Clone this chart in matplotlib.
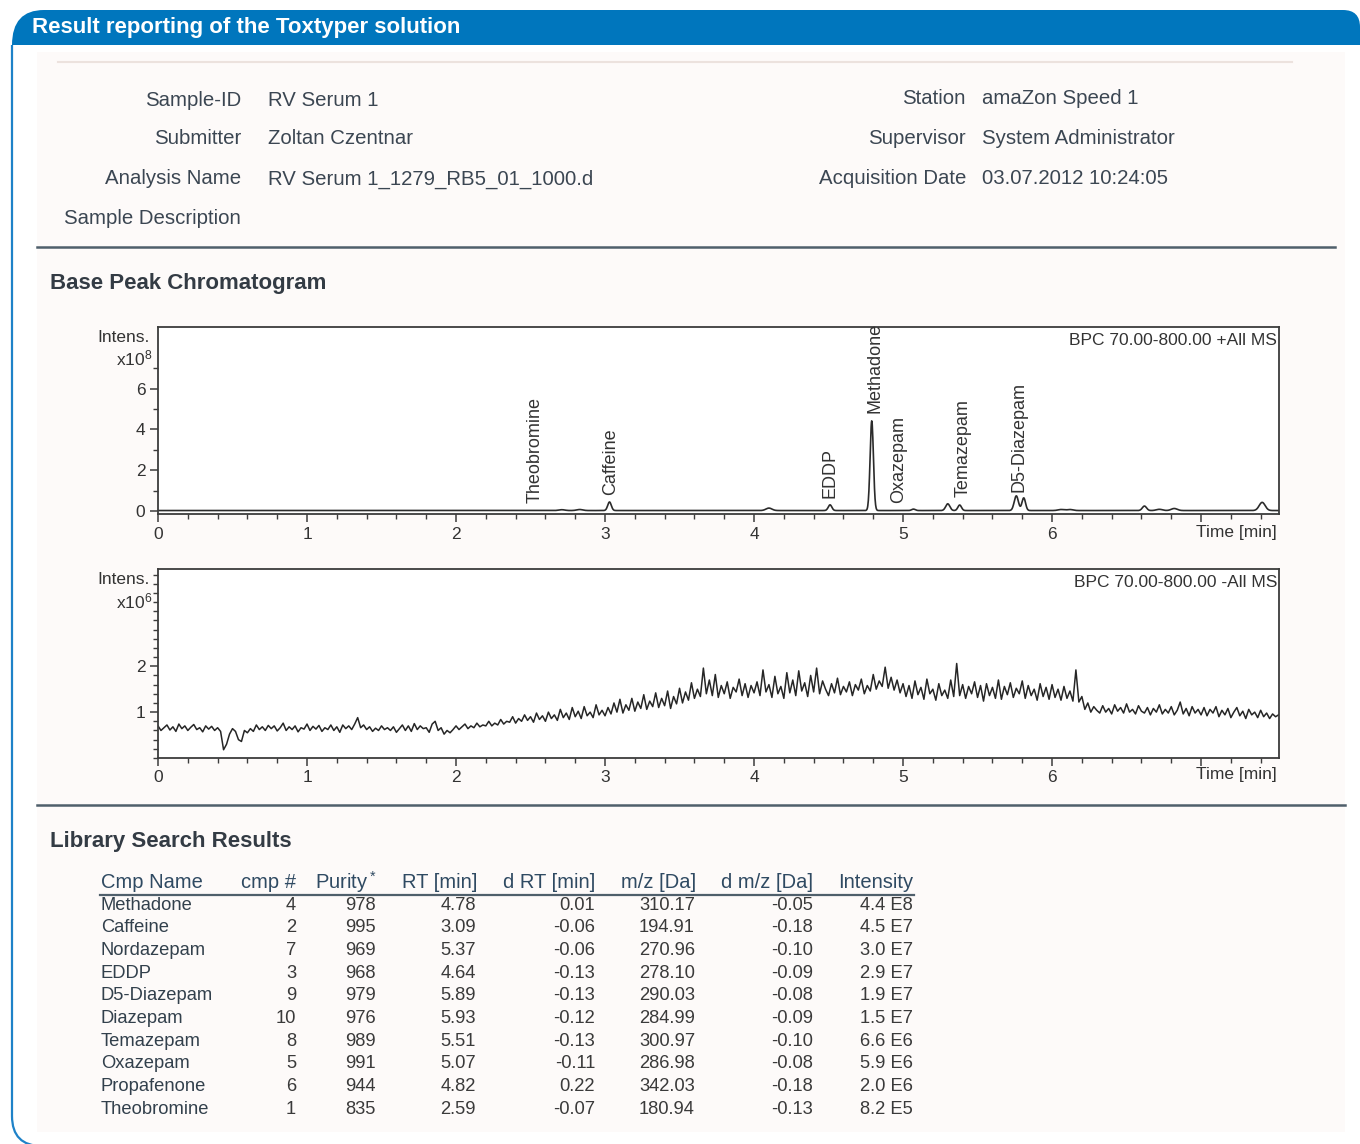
import numpy as np
import matplotlib
matplotlib.use("Agg")
import matplotlib.pyplot as plt
from matplotlib.patches import PathPatch, Rectangle
from matplotlib.path import Path
from matplotlib.ticker import MultipleLocator, FixedLocator, FixedFormatter

plt.rcParams['font.family'] = ['Liberation Sans', 'DejaVu Sans']
plt.rcParams['mathtext.fontset'] = 'custom'
plt.rcParams['mathtext.rm'] = 'Liberation Sans'
plt.rcParams['mathtext.default'] = 'regular'

# ---------------- data ----------------
title = "Result reporting of the Toxtyper solution"
info_left_labels = ["Sample-ID", "Submitter", "Analysis Name", "Sample Description"]
info_left_values = ["RV Serum 1", "Zoltan Czentnar", "RV Serum 1_1279_RB5_01_1000.d", ""]
info_right_labels = ["Station", "Supervisor", "Acquisition Date"]
info_right_values = ["amaZon Speed 1", "System Administrator", "03.07.2012 10:24:05"]

# positive-mode BPC peaks (time [min], height [x1e8], sigma [min])
peak_rt = [2.71, 2.83, 3.03, 4.10, 4.51, 4.79, 5.07, 5.30, 5.38, 5.76, 5.81, 6.06, 6.12, 6.62, 6.72, 6.82, 7.41]
peak_h = [0.04, 0.05, 0.42, 0.12, 0.28, 4.40, 0.07, 0.33, 0.27, 0.72, 0.62, 0.05, 0.05, 0.22, 0.06, 0.10, 0.40]
peak_w = [0.02, 0.02, 0.012, 0.02, 0.012, 0.011, 0.012, 0.014, 0.012, 0.014, 0.012, 0.02, 0.02, 0.014, 0.02, 0.02, 0.02]
baseline_pos = 0.02

# peak annotations (label, time, label bottom [x1e8])
ann_names = ["Theobromine", "Caffeine", "EDDP", "Methadone", "Oxazepam", "Temazepam", "D5-Diazepam"]
ann_rt = [2.53, 3.04, 4.51, 4.81, 4.97, 5.40, 5.78]
ann_y = [0.40, 0.78, 0.64, 4.80, 0.40, 0.69, 0.93]

# negative-mode BPC trace, sampled every 0.02 min from 0 to 7.52 [x1e6]
neg_step = 0.02
neg_vals = [
    0.70, 0.60, 0.66, 0.72, 0.61, 0.68, 0.58, 0.74, 0.64, 0.70, 0.60, 0.67, 0.73, 0.62, 0.66, 0.57, 0.70, 0.63, 0.69, 0.60, 0.66, 0.58, 0.18, 0.30, 0.52,
    0.64, 0.58, 0.40, 0.36, 0.60, 0.55, 0.64, 0.58, 0.72, 0.62, 0.68, 0.60, 0.71, 0.64, 0.70, 0.59, 0.66, 0.76, 0.60, 0.68, 0.62, 0.70, 0.57, 0.66, 0.63,
    0.74, 0.60, 0.69, 0.63, 0.71, 0.58, 0.66, 0.62, 0.72, 0.60, 0.68, 0.56, 0.72, 0.64, 0.70, 0.62, 0.74, 0.88, 0.66, 0.72, 0.62, 0.68, 0.58, 0.65, 0.60,
    0.70, 0.62, 0.66, 0.60, 0.68, 0.56, 0.64, 0.72, 0.60, 0.70, 0.58, 0.75, 0.62, 0.70, 0.64, 0.66, 0.56, 0.74, 0.80, 0.60, 0.66, 0.52, 0.60, 0.55, 0.62,
    0.70, 0.62, 0.68, 0.74, 0.64, 0.70, 0.66, 0.76, 0.68, 0.72, 0.70, 0.80, 0.70, 0.76, 0.72, 0.84, 0.74, 0.80, 0.78, 0.90, 0.76, 0.86, 0.80, 0.94, 0.82,
    0.90, 0.78, 0.98, 0.84, 0.92, 0.80, 1.00, 0.86, 0.94, 0.82, 1.06, 0.88, 0.98, 0.84, 1.10, 0.90, 1.02, 0.86, 1.12, 0.92, 1.00, 0.88, 1.16, 0.94, 1.04,
    0.92, 1.10, 0.96, 1.20, 1.00, 1.28, 0.98, 1.16, 1.04, 1.30, 1.02, 1.22, 1.08, 1.38, 1.06, 1.24, 1.12, 1.42, 1.10, 1.30, 1.14, 1.46, 1.08, 1.34, 1.18,
    1.52, 1.20, 1.44, 1.26, 1.64, 1.30, 1.50, 1.34, 1.96, 1.40, 1.70, 1.36, 1.82, 1.32, 1.58, 1.40, 1.66, 1.30, 1.54, 1.44, 1.72, 1.36, 1.62, 1.32, 1.58,
    1.42, 1.66, 1.36, 1.92, 1.44, 1.60, 1.32, 1.78, 1.40, 1.56, 1.30, 1.86, 1.42, 1.70, 1.36, 1.90, 1.46, 1.64, 1.34, 1.80, 1.44, 1.96, 1.40, 1.68, 1.50,
    1.36, 1.62, 1.42, 1.74, 1.38, 1.56, 1.44, 1.66, 1.36, 1.60, 1.48, 1.72, 1.40, 1.58, 1.46, 1.82, 1.50, 1.68, 1.56, 1.98, 1.52, 1.76, 1.48, 1.70, 1.42,
    1.62, 1.34, 1.58, 1.30, 1.68, 1.38, 1.54, 1.28, 1.72, 1.40, 1.50, 1.26, 1.62, 1.36, 1.48, 1.30, 1.70, 1.34, 2.06, 1.36, 1.60, 1.30, 1.56, 1.40, 1.66,
    1.32, 1.58, 1.24, 1.62, 1.36, 1.54, 1.30, 1.70, 1.28, 1.56, 1.38, 1.64, 1.32, 1.52, 1.40, 1.68, 1.30, 1.58, 1.36, 1.50, 1.26, 1.62, 1.34, 1.54, 1.28,
    1.60, 1.32, 1.50, 1.26, 1.56, 1.30, 1.46, 1.24, 1.92, 1.22, 1.34, 1.06, 1.20, 1.00, 1.12, 1.04, 0.98, 1.14, 1.00, 1.08, 0.96, 1.16, 1.02, 1.10, 0.98,
    1.18, 1.00, 1.06, 0.96, 1.14, 1.02, 0.98, 1.10, 0.94, 1.08, 1.00, 1.16, 0.96, 1.06, 0.98, 1.12, 0.94, 1.04, 1.22, 0.96, 1.08, 0.92, 1.12, 0.98, 1.06,
    0.94, 1.10, 0.92, 1.06, 0.98, 1.12, 0.90, 1.04, 0.94, 1.08, 0.88, 1.00, 1.10, 0.92, 1.02, 0.86, 1.06, 0.94, 1.00, 0.88, 1.04, 0.90, 0.98, 0.86, 0.96,
    0.90, 0.94,
]

# library search table
tbl_headers = ["Cmp Name", "cmp #", "Purity$^*$", "RT [min]", "d RT [min]", "m/z [Da]", "d m/z [Da]", "Intensity"]
cmp_names = ["Methadone", "Caffeine", "Nordazepam", "EDDP", "D5-Diazepam", "Diazepam",
             "Temazepam", "Oxazepam", "Propafenone", "Theobromine"]
cmp_num = [4, 2, 7, 3, 9, 10, 8, 5, 6, 1]
purity = [978, 995, 969, 968, 979, 976, 989, 991, 944, 835]
rt_min = [4.78, 3.09, 5.37, 4.64, 5.89, 5.93, 5.51, 5.07, 4.82, 2.59]
d_rt = [0.01, -0.06, -0.06, -0.13, -0.13, -0.12, -0.13, -0.11, 0.22, -0.07]
mz = [310.17, 194.91, 270.96, 278.10, 290.03, 284.99, 300.97, 286.98, 342.03, 180.94]
d_mz = [-0.05, -0.18, -0.10, -0.09, -0.08, -0.09, -0.10, -0.08, -0.18, -0.13]
intensity = ["4.4 E8", "4.5 E7", "3.0 E7", "2.9 E7", "1.9 E7", "1.5 E7", "6.6 E6", "5.9 E6", "2.0 E6", "8.2 E5"]

# ---------------- figure ----------------
W, H = 1360, 1144
fig = plt.figure(figsize=(W / 100, H / 100), dpi=100)
fig.patch.set_facecolor("white")

bg = fig.add_axes([0, 0, 1, 1])
bg.set_xlim(0, W)
bg.set_ylim(H, 0)
bg.axis("off")

BLUE = "#0076bd"
TXT = "#3b4652"
DARK = "#333b44"
LINE = "#4f5f6b"

# inner light panel
bg.add_patch(Rectangle((37, 52), 1308, 1080, facecolor="#fdfaf9", edgecolor="none", zorder=0))

# header bar with rounded top corners
verts = [(12, 45), (12, 10), (44, 10), (1343, 10), (1360, 10), (1360, 27), (1360, 45), (12, 45)]
codes = [Path.MOVETO, Path.CURVE3, Path.CURVE3, Path.LINETO, Path.CURVE3, Path.CURVE3, Path.LINETO, Path.CLOSEPOLY]
bg.add_patch(PathPatch(Path(verts, codes), facecolor=BLUE, edgecolor="none", zorder=2))
bg.text(32, 28, title, color="white", fontsize=16, fontweight="bold", ha="left", va="center", zorder=3)

# left frame line with rounded bottom-left corner
fverts = [(12, 45), (12, 1116), (12, 1146), (42, 1146), (1360, 1146)]
fcodes = [Path.MOVETO, Path.LINETO, Path.CURVE3, Path.CURVE3, Path.LINETO]
bg.add_patch(PathPatch(Path(fverts, fcodes), facecolor="none", edgecolor="#1e82c8", lw=1.6, zorder=2))

# faint top rule and separators
bg.plot([58, 1292], [62, 62], color="#ece2de", lw=1.5, zorder=1)
bg.plot([37, 1335], [247, 247], color=LINE, lw=1.8, zorder=1)
bg.plot([37, 1345], [805, 805], color=LINE, lw=1.8, zorder=1)

# info block
left_y = [100, 139, 179, 218]
for lab, val, y in zip(info_left_labels, info_left_values, left_y):
    bg.text(241, y, lab, ha="right", va="center", fontsize=14.7, color=TXT)
    if val:
        bg.text(268, y, val, ha="left", va="center", fontsize=14.7, color=TXT)
right_y = [99, 138, 179]
for lab, val, y in zip(info_right_labels, info_right_values, right_y):
    bg.text(966, y, lab, ha="right", va="center", fontsize=14.7, color=TXT)
    bg.text(982, y, val, ha="left", va="center", fontsize=14.7, color=TXT)

# section titles
bg.text(50, 283, "Base Peak Chromatogram", ha="left", va="center", fontsize=16, fontweight="bold", color=DARK)
bg.text(50, 842, "Library Search Results", ha="left", va="center", fontsize=16, fontweight="bold", color=DARK)


def px_axes(left, right, top, bottom):
    return fig.add_axes([left / W, 1 - bottom / H, (right - left) / W, (bottom - top) / H])


def style_axis(ax):
    ax.set_facecolor("white")
    for s in ax.spines.values():
        s.set_color("#3c3c3c")
        s.set_linewidth(1.3)
    ax.set_xlim(0, 7.523)
    ax.xaxis.set_major_locator(FixedLocator([0, 1, 2, 3, 4, 5, 6, 7]))
    ax.xaxis.set_major_formatter(FixedFormatter(["0", "1", "2", "3", "4", "5", "6", ""]))
    ax.xaxis.set_minor_locator(MultipleLocator(0.2))
    ax.tick_params(axis="both", which="major", direction="out", length=6, width=1.1,
                   color="#3c3c3c", labelsize=12.5, labelcolor="#333333", pad=3)
    ax.tick_params(axis="both", which="minor", direction="out", length=3.5, width=1.0, color="#3c3c3c")


# top chromatogram
ax1 = px_axes(158, 1279, 327, 514)
style_axis(ax1)
t = np.linspace(0, 7.523, 4000)
pos = np.full_like(t, baseline_pos)
for rt, h, w in zip(peak_rt, peak_h, peak_w):
    pos += h * np.exp(-0.5 * ((t - rt) / w) ** 2)
ax1.plot(t, pos, color="#2b2b2b", lw=1.2)
ax1.set_ylim(-0.15, 9.02)
ax1.yaxis.set_major_locator(FixedLocator([0, 2, 4, 6]))
ax1.yaxis.set_minor_locator(FixedLocator([1, 3, 5, 7]))
for name, x, y in zip(ann_names, ann_rt, ann_y):
    ax1.text(x, y, name, rotation=90, ha="center", va="bottom", fontsize=13, color="#333333", clip_on=False)
ax1.text(0.9985, 0.97, "BPC 70.00-800.00 +All MS", transform=ax1.transAxes, ha="right", va="top",
         fontsize=12.5, color="#333333")
bg.text(1277, 532, "Time [min]", ha="right", va="center", fontsize=12.5, color="#333333")
bg.text(150, 337, "Intens.", ha="right", va="center", fontsize=12.5, color="#333333")
bg.text(152, 358, "x10$^8$", ha="right", va="center", fontsize=12.5, color="#333333")

# bottom chromatogram
ax2 = px_axes(158, 1279, 569, 758)
style_axis(ax2)
tn = np.arange(len(neg_vals)) * neg_step
ax2.plot(tn, neg_vals, color="#262626", lw=1.1)
ax2.set_ylim(0, 4.12)
ax2.yaxis.set_major_locator(FixedLocator([1, 2]))
ax2.yaxis.set_minor_locator(MultipleLocator(0.2))
ax2.text(0.9985, 0.97, "BPC 70.00-800.00 -All MS", transform=ax2.transAxes, ha="right", va="top",
         fontsize=12.5, color="#333333")
bg.text(1277, 775, "Time [min]", ha="right", va="center", fontsize=12.5, color="#333333")
bg.text(150, 580, "Intens.", ha="right", va="center", fontsize=12.5, color="#333333")
bg.text(152, 601, "x10$^6$", ha="right", va="center", fontsize=12.5, color="#333333")

# library search table
HDR = "#2f4a62"
hdr_y = 882
bg.text(101, hdr_y, tbl_headers[0], ha="left", va="center", fontsize=14.5, color=HDR)
right_edges = [296, 377, 477, 595, 696, 813, 913]
for hname, xr in zip(tbl_headers[1:], right_edges):
    bg.text(xr, hdr_y, hname, ha="right", va="center", fontsize=14.5, color=HDR)
bg.plot([100, 914], [895, 895], color=LINE, lw=1.6)

row0, dy = 905, 22.7
val_edges = [296, 376, 476, 595, 695, 813, 913]
for i in range(len(cmp_names)):
    y = row0 + i * dy
    bg.text(101, y, cmp_names[i], ha="left", va="center", fontsize=13.2, color="#32404c")
    cells = [str(cmp_num[i]), str(purity[i]), f"{rt_min[i]:.2f}", f"{d_rt[i]:.2f}",
             f"{mz[i]:.2f}", f"{d_mz[i]:.2f}", intensity[i]]
    for c, xr in zip(cells, val_edges):
        bg.text(xr, y, c, ha="right", va="center", fontsize=13.2, color="#3a3a3a")

fig.savefig("out.png", dpi=100, facecolor="white")
